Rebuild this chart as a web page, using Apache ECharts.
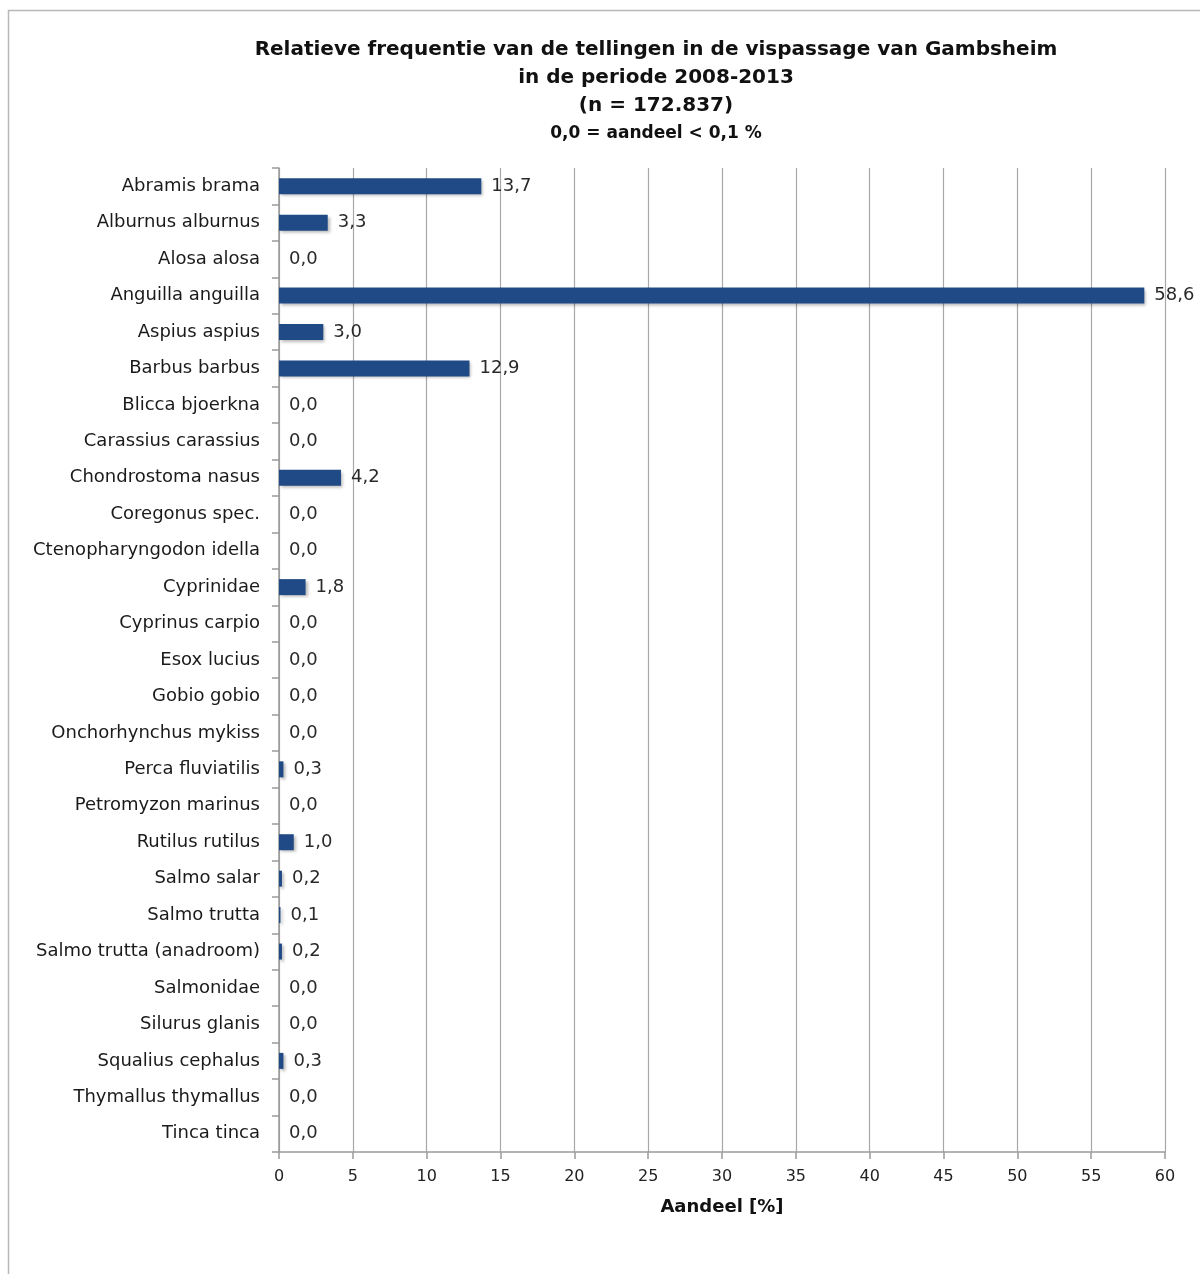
<!DOCTYPE html>
<html>
<head>
<meta charset="utf-8">
<script src="https://cdn.jsdelivr.net/npm/echarts@6/dist/echarts.min.js"></script>
<style>
  html, body { margin: 0; padding: 0; background: #fff; }
  #chart { width: 1200px; height: 1274px; }
</style>
</head>
<body>
<div id="chart"></div>
<script>
// Fish species counted in the Gambsheim fish pass
const species = [
  'Abramis brama', 'Alburnus alburnus', 'Alosa alosa', 'Anguilla anguilla',
  'Aspius aspius', 'Barbus barbus', 'Blicca bjoerkna', 'Carassius carassius',
  'Chondrostoma nasus', 'Coregonus spec.', 'Ctenopharyngodon idella', 'Cyprinidae',
  'Cyprinus carpio', 'Esox lucius', 'Gobio gobio', 'Onchorhynchus mykiss',
  'Perca fluviatilis', 'Petromyzon marinus', 'Rutilus rutilus', 'Salmo salar',
  'Salmo trutta', 'Salmo trutta (anadroom)', 'Salmonidae', 'Silurus glanis',
  'Squalius cephalus', 'Thymallus thymallus', 'Tinca tinca'
];

// Share of total count, in percent
const share = [
  13.7, 3.3, 0.0, 58.6,
  3.0, 12.9, 0.0, 0.0,
  4.2, 0.0, 0.0, 1.8,
  0.0, 0.0, 0.0, 0.0,
  0.3, 0.0, 1.0, 0.2,
  0.1, 0.2, 0.0, 0.0,
  0.3, 0.0, 0.0
];

const xTicks = [0, 5, 10, 15, 20, 25, 30, 35, 40, 45, 50, 55, 60];

const titleLines = [
  'Relatieve frequentie van de tellingen in de vispassage van Gambsheim',
  'in de periode 2008-2013',
  '(n = 172.837)'
];
const subtitle = '0,0 = aandeel < 0,1 %';
const axisTitle = 'Aandeel [%]';

const font = '"DejaVu Sans", "Liberation Sans", Arial, sans-serif';

const chart = echarts.init(document.getElementById('chart'), null, { renderer: 'canvas' });

chart.setOption({
  backgroundColor: '#ffffff',
  animation: false,
  graphic: [
    {
      type: 'rect',
      shape: { x: 8.5, y: 10.5, width: 1200, height: 1290 },
      style: { fill: 'none', stroke: '#b8b8b8', lineWidth: 1.5 },
      silent: true
    }
  ],
  title: {
    text: titleLines.join('\n'),
    subtext: subtitle,
    left: 651,
    textAlign: 'center',
    top: 31,
    itemGap: 2,
    textStyle: {
      fontFamily: font, fontSize: 20, fontWeight: 'bold', color: '#111', lineHeight: 28
    },
    subtextStyle: {
      fontFamily: font, fontSize: 17, fontWeight: 'bold', color: '#111', lineHeight: 24
    }
  },
  grid: { left: 279, right: 35, top: 168, bottom: 122, containLabel: false },
  xAxis: {
    type: 'value',
    min: xTicks[0],
    max: xTicks[xTicks.length - 1],
    interval: xTicks[1] - xTicks[0],
    name: axisTitle,
    nameLocation: 'middle',
    nameGap: 46,
    nameTextStyle: { fontFamily: font, fontSize: 18, fontWeight: 'bold', color: '#111' },
    axisLine: { show: true, lineStyle: { color: '#9a9a9a', width: 1.5 } },
    axisTick: { show: true, length: 7, lineStyle: { color: '#9a9a9a', width: 1.5 } },
    axisLabel: { fontFamily: font, fontSize: 16, color: '#222', margin: 17 },
    splitLine: { show: true, lineStyle: { color: '#a8a8a8', width: 1.2 } }
  },
  yAxis: {
    type: 'category',
    data: species,
    inverse: true,
    axisLine: { show: true, lineStyle: { color: '#9a9a9a', width: 1.5 } },
    axisTick: { show: true, length: 7, interval: 0, lineStyle: { color: '#9a9a9a', width: 1.5 } },
    axisLabel: { fontFamily: font, fontSize: 18, color: '#1a1a1a', margin: 19, interval: 0 }
  },
  series: [
    {
      type: 'bar',
      data: share,
      barWidth: 16,
      itemStyle: {
        color: '#1f4a85',
        shadowColor: 'rgba(0,0,0,0.28)',
        shadowBlur: 3,
        shadowOffsetX: 2,
        shadowOffsetY: 2
      },
      label: {
        show: true,
        position: 'right',
        distance: 10,
        fontFamily: font,
        fontSize: 18,
        color: '#2a2a2a',
        formatter: p => p.value.toFixed(1).replace('.', ',')
      }
    }
  ]
});
</script>
</body>
</html>
